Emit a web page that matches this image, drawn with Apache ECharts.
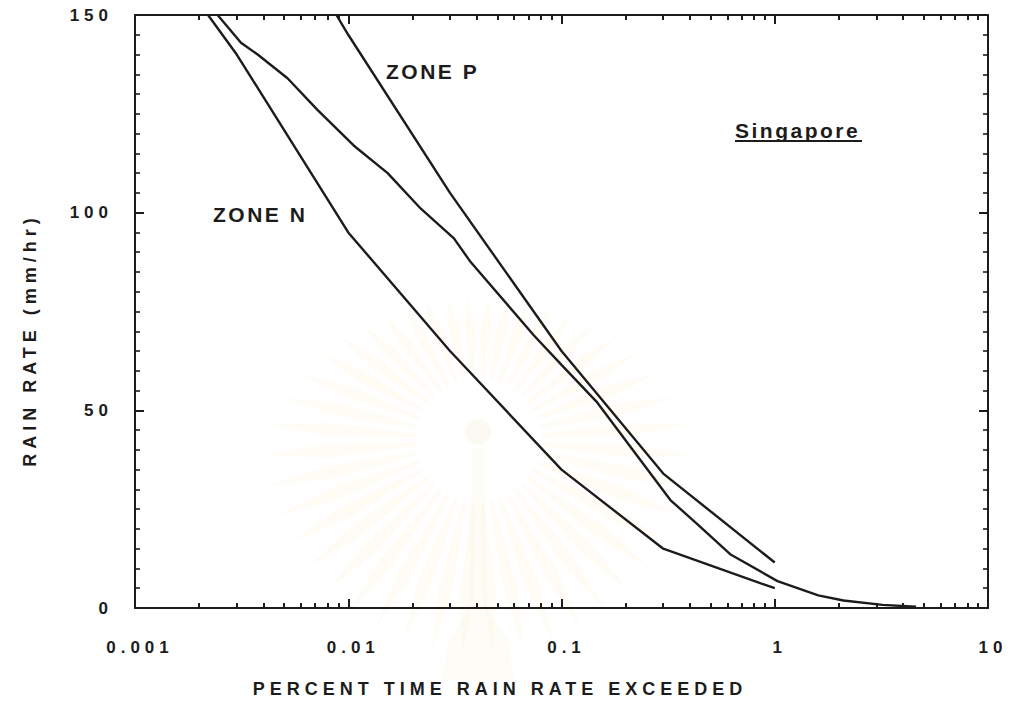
<!DOCTYPE html>
<html>
<head>
<meta charset="utf-8">
<script src="https://cdn.jsdelivr.net/npm/echarts@6/dist/echarts.min.js"></script>
<style>
  html, body { margin: 0; padding: 0; background: #ffffff; }
  #chart { width: 1013px; height: 704px; }
  /* wide typewriter-style tracking of the plotted lettering */
  #chart svg text[style*="17px"] { letter-spacing: 5px; }
  #chart svg text[style*="18px"] { letter-spacing: 5px; }
  #chart svg text[style*="21px"] { letter-spacing: 2.5px; }
</style>
</head>
<body>
<div id="chart"></div>
<script>
// Tick labels
const xTickLabels = ['0.001', '0.01', '0.1', '1', '10'];
const yTickLabels = ['0', '50', '100', '150'];

// CCIR rain zone P (percent of time, mm/hr)
const zonePPercent = [0.0088, 0.01, 0.03, 0.1, 0.3, 1];
const zonePRate    = [150, 145, 105, 65, 34, 11.5];

// CCIR rain zone N
const zoneNPercent = [0.0022, 0.003, 0.01, 0.03, 0.1, 0.3, 1];
const zoneNRate    = [150, 140, 95, 65, 35, 15, 5];

// Singapore measured distribution
const sgPercent = [0.00244, 0.00314, 0.00376, 0.00519, 0.00717, 0.0106, 0.0153, 0.0219, 0.0313,
                   0.0375, 0.0741, 0.1, 0.147, 0.324, 0.432, 0.618, 1.03, 1.6, 2.1, 3.2, 4.6];
const sgRate    = [150, 143, 140, 134, 126, 117, 110, 101, 93.5,
                   87.5, 69, 61.5, 52, 27.3, 21.3, 13.6, 6.8, 3.2, 1.9, 0.8, 0.3];

const pairs = (xs, ys) => xs.map((x, i) => [x, ys[i]]);

// log-cycle minor tick positions (2..9 in each decade)
const minorTickLog = [];
for (let e = -3; e < 1; e++) {
  for (let k = 2; k <= 9; k++) minorTickLog.push(Math.log10(k * Math.pow(10, e)));
}

const INK = '#1c1c1c';
const FONT = '"Liberation Sans", Arial, Helvetica, sans-serif';

// faint emblem behind the plot
const emblem = [];
const cx = 478, cy = 440, nRays = 44;
for (let i = 0; i < nRays; i++) {
  const a = (i + 0.5) / nRays * Math.PI * 2;
  const up = Math.max(0, -Math.sin(a));
  const r0 = 62, r1 = 215 - 70 * up, rm = (r0 + r1) * 0.55;
  const w = 0.045;
  const p = (r, t) => [cx + r * Math.cos(t), cy + r * Math.sin(t)];
  emblem.push({
    type: 'polygon', z: -10, silent: true,
    shape: { points: [p(r0, a - w * 0.6), p(rm, a - w), p(r1, a), p(rm, a + w), p(r0, a + w * 0.6)] },
    style: { fill: 'rgba(248, 232, 175, 0.12)' }
  });
}
emblem.push({ type: 'circle', z: -10, silent: true, shape: { cx: cx, cy: cy - 8, r: 13 },
  style: { fill: 'rgba(240, 232, 205, 0.25)' } });
emblem.push({ type: 'polygon', z: -10, silent: true,
  shape: { points: [[cx - 6, cy + 8], [cx + 6, cy + 8], [cx + 9, cy + 170], [cx + 30, cy + 200], [cx + 36, cy + 240],
                    [cx - 36, cy + 240], [cx - 30, cy + 200], [cx - 9, cy + 170]] },
  style: { fill: 'rgba(248, 236, 195, 0.14)' } });

const chart = echarts.init(document.getElementById('chart'), null, { renderer: 'svg' });

const tickStyle = { color: INK, width: 2 };
const labelStyle = { color: INK, fontSize: 17, fontWeight: 'bold', fontFamily: FONT };

const lineSeries = (name, data) => ({
  name: name, type: 'line', data: data, xAxisIndex: 0, yAxisIndex: 0,
  symbol: 'none', smooth: false, silent: true, clip: true, z: 3,
  lineStyle: { color: INK, width: 2.4 }
});

chart.setOption({
  animation: false,
  backgroundColor: '#ffffff',
  grid: { left: 135, right: 25, top: 15, bottom: 96, containLabel: false },
  xAxis: [
    {
      type: 'log', logBase: 10, min: 0.001, max: 10, position: 'bottom',
      axisLine: { show: true, onZero: false, lineStyle: tickStyle },
      axisTick: { show: true, inside: true, length: 9, lineStyle: tickStyle },
      splitLine: { show: false },
      axisLabel: Object.assign({ margin: 31, padding: [0, 0, 0, 10],
        formatter: (v, i) => xTickLabels[i] }, labelStyle),
      name: 'PERCENT TIME RAIN RATE EXCEEDED', nameLocation: 'middle', nameGap: 72,
      nameTextStyle: { color: INK, fontSize: 18, fontWeight: 'bold', fontFamily: FONT, padding: [0, 123, 0, 0] }
    },
    {
      type: 'log', logBase: 10, min: 0.001, max: 10, position: 'top',
      axisLine: { show: true, onZero: false, lineStyle: tickStyle },
      axisTick: { show: true, inside: true, length: 9, lineStyle: tickStyle },
      splitLine: { show: false }, axisLabel: { show: false }
    },
    {
      type: 'value', min: -3, max: 1, position: 'bottom',
      axisLine: { show: false, onZero: false }, splitLine: { show: false }, axisLabel: { show: false },
      axisTick: { show: true, inside: true, length: 5, customValues: minorTickLog, lineStyle: tickStyle }
    },
    {
      type: 'value', min: -3, max: 1, position: 'top',
      axisLine: { show: false, onZero: false }, splitLine: { show: false }, axisLabel: { show: false },
      axisTick: { show: true, inside: true, length: 5, customValues: minorTickLog, lineStyle: tickStyle }
    }
  ],
  yAxis: [
    {
      type: 'value', min: 0, max: 150, interval: 50, position: 'left',
      axisLine: { show: true, onZero: false, lineStyle: tickStyle },
      axisTick: { show: true, inside: true, length: 9, lineStyle: tickStyle },
      minorTick: { show: true, splitNumber: 10, length: 5, lineStyle: { color: INK, width: 1.6 } },
      splitLine: { show: false },
      axisLabel: Object.assign({ margin: 22, formatter: (v, i) => yTickLabels[i] }, labelStyle),
      name: 'RAIN RATE (mm/hr)', nameLocation: 'middle', nameGap: 96,
      nameTextStyle: { color: INK, fontSize: 18, fontWeight: 'bold', fontFamily: FONT, padding: [0, 57, 0, 0] }
    },
    {
      type: 'value', min: 0, max: 150, interval: 50, position: 'right',
      axisLine: { show: true, onZero: false, lineStyle: tickStyle },
      axisTick: { show: true, inside: true, length: 9, lineStyle: tickStyle },
      minorTick: { show: true, splitNumber: 10, length: 5, lineStyle: { color: INK, width: 1.6 } },
      splitLine: { show: false }, axisLabel: { show: false }
    }
  ],
  graphic: emblem.concat([
    { type: 'text', left: 386, top: 61, silent: true,
      style: { text: 'ZONE P', fill: INK, font: 'bold 21px ' + FONT } },
    { type: 'text', left: 213, top: 204, silent: true,
      style: { text: 'ZONE N', fill: INK, font: 'bold 21px ' + FONT } },
    { type: 'text', left: 735, top: 120, silent: true,
      style: { text: 'Singapore', fill: INK, font: 'bold 21px ' + FONT } },
    { type: 'line', silent: true, shape: { x1: 735, y1: 141, x2: 862, y2: 141 },
      style: { stroke: INK, lineWidth: 2 } }
  ]),
  series: [
    lineSeries('ZONE P', pairs(zonePPercent, zonePRate)),
    lineSeries('ZONE N', pairs(zoneNPercent, zoneNRate)),
    lineSeries('Singapore', pairs(sgPercent, sgRate))
  ]
});
</script>
</body>
</html>
